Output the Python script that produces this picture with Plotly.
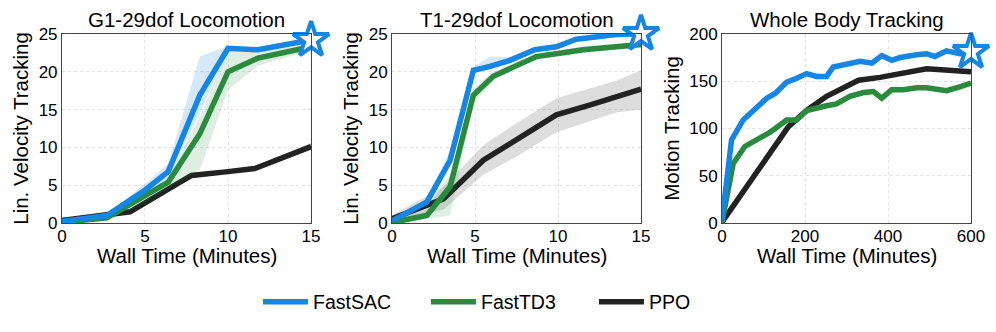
import plotly.graph_objs as go
from plotly.subplots import make_subplots

# ---- G1-29dof Locomotion ----
g1_sac_x = [0, 2.7, 4.9, 6.4, 8.3, 10, 11.8, 15]
g1_sac_y = [0.2, 1.0, 4.2, 6.8, 16.9, 23.1, 22.9, 24.2]
g1_sac_hi = [0.3, 1.2, 5.0, 7.8, 22.0, 23.4, 23.1, 24.5]
g1_sac_lo = [0.1, 0.8, 3.6, 6.2, 14.5, 22.8, 22.7, 23.9]

g1_td3_x = [0, 2.7, 4.9, 6.4, 8.3, 10, 11.8, 15]
g1_td3_y = [0.1, 0.7, 3.5, 5.4, 11.8, 20.0, 21.8, 23.3]
g1_td3_hi = [0.2, 0.9, 4.2, 6.2, 14.0, 23.0, 22.6, 23.7]
g1_td3_lo = [0.0, 0.5, 2.6, 4.6, 7.0, 17.6, 20.8, 22.8]

g1_ppo_x = [0, 2.7, 4.1, 6.4, 7.8, 10, 11.6, 15]
g1_ppo_y = [0.35, 1.1, 1.5, 4.5, 6.3, 6.8, 7.2, 10.1]
g1_ppo_hi = [0.5, 1.3, 1.8, 4.8, 6.6, 7.1, 7.5, 10.6]
g1_ppo_lo = [0.2, 0.9, 1.2, 4.2, 6.0, 6.5, 6.9, 9.7]

# ---- T1-29dof Locomotion ----
t1_sac_x = [0, 2.1, 3.5, 4.9, 5.9, 7.1, 8.6, 9.9, 11.1, 13.5, 15]
t1_sac_y = [0.3, 2.8, 8.3, 20.2, 20.7, 21.5, 22.9, 23.3, 24.3, 24.9, 25.0]
t1_sac_hi = [0.5, 3.1, 9.6, 20.6, 22.0, 21.9, 23.2, 23.6, 24.6, 25.2, 25.3]
t1_sac_lo = [0.1, 2.5, 7.5, 19.7, 20.3, 21.1, 22.6, 23.0, 24.0, 24.6, 24.7]

t1_td3_x = [0, 2.1, 3.5, 4.9, 6.1, 7.5, 8.7, 10.3, 11.5, 15]
t1_td3_y = [0.1, 1.0, 4.8, 16.9, 19.4, 20.9, 22.0, 22.5, 22.9, 23.6]
t1_td3_hi = [0.2, 1.8, 6.5, 17.8, 20.0, 21.3, 22.4, 22.9, 23.3, 24.0]
t1_td3_lo = [0.0, 0.6, 1.0, 15.8, 18.8, 20.5, 21.6, 22.1, 22.5, 23.2]

t1_ppo_x = [0, 3.1, 5.5, 7.5, 9.9, 11.9, 13.5, 15]
t1_ppo_y = [0.6, 3.2, 8.3, 11.0, 14.3, 15.6, 16.7, 17.7]
t1_ppo_hi = [1.0, 4.8, 10.3, 13.2, 16.5, 17.8, 18.8, 20.2]
t1_ppo_lo = [0.2, 1.8, 6.4, 8.8, 12.0, 13.4, 14.6, 15.0]

# ---- Whole Body Tracking ----
wb_sac_x = [0, 23, 51, 84, 108, 128, 156, 180, 204, 228, 252, 268, 296, 333,
            361, 385, 409, 429, 469, 493, 513, 541, 573, 600]
wb_sac_y = [3, 88, 109, 123, 132, 137, 149, 153, 158, 155, 155, 165, 167, 171,
            169, 177, 172, 175, 178, 179, 176, 182, 179, 181]

wb_td3_x = [0, 27, 55, 84, 116, 156, 180, 204, 228, 252, 276, 308, 341, 365,
            385, 409, 437, 469, 493, 513, 541, 573, 600]
wb_td3_y = [1, 63, 81, 88, 96, 109, 109, 119, 122, 124, 126, 134, 138, 139,
            132, 141, 141, 143, 143, 142, 140, 144, 148]

wb_ppo_x = [0, 160, 204, 252, 329, 381, 493, 600]
wb_ppo_y = [1, 102, 119, 134, 151, 154, 163, 160]
wb_ppo_hi = [2, 105, 122, 136, 152, 155, 164, 161]
wb_ppo_lo = [0, 99, 116, 132, 150, 153, 162, 159]

colors = {'FastSAC': '#1585E6', 'FastTD3': '#2A8A3E', 'PPO': '#222222'}
fills = {'FastSAC': 'rgba(21,133,230,0.18)', 'FastTD3': 'rgba(42,138,62,0.15)',
         'PPO': 'rgba(120,120,120,0.25)'}
ranks = {'FastSAC': 1, 'FastTD3': 2, 'PPO': 3}

panels = [
    ('G1-29dof Locomotion', 'Lin. Velocity Tracking', [0, 15], [0, 25], 5, 5, {
        'PPO': (g1_ppo_x, g1_ppo_y, g1_ppo_lo, g1_ppo_hi),
        'FastTD3': (g1_td3_x, g1_td3_y, g1_td3_lo, g1_td3_hi),
        'FastSAC': (g1_sac_x, g1_sac_y, g1_sac_lo, g1_sac_hi)}),
    ('T1-29dof Locomotion', 'Lin. Velocity Tracking', [0, 15], [0, 25], 5, 5, {
        'PPO': (t1_ppo_x, t1_ppo_y, t1_ppo_lo, t1_ppo_hi),
        'FastTD3': (t1_td3_x, t1_td3_y, t1_td3_lo, t1_td3_hi),
        'FastSAC': (t1_sac_x, t1_sac_y, t1_sac_lo, t1_sac_hi)}),
    ('Whole Body Tracking', 'Motion Tracking', [0, 600], [0, 200], 200, 50, {
        'PPO': (wb_ppo_x, wb_ppo_y, wb_ppo_lo, wb_ppo_hi),
        'FastTD3': (wb_td3_x, wb_td3_y, None, None),
        'FastSAC': (wb_sac_x, wb_sac_y, None, None)}),
]

fig = make_subplots(rows=1, cols=3)

x_domains = [[0.0622, 0.3123], [0.3936, 0.6436], [0.7249, 0.9749]]
y_domain = [0.328, 0.898]
font = 'Liberation Sans, Arial, sans-serif'

for i, (title, ytitle, xr, yr, xdt, ydt, series) in enumerate(panels):
    col = i + 1
    for name in ['PPO', 'FastTD3', 'FastSAC']:
        x, y, lo, hi = series[name]
        if lo is not None:
            fig.add_trace(go.Scatter(x=x + x[::-1], y=hi + lo[::-1], mode='lines',
                                     fill='toself', fillcolor=fills[name],
                                     line=dict(width=0), hoverinfo='skip',
                                     showlegend=False), row=1, col=col)
        fig.add_trace(go.Scatter(x=x, y=y, mode='lines', name=name,
                                 line=dict(color=colors[name], width=5.5),
                                 legendrank=ranks[name],
                                 showlegend=(i == 0)), row=1, col=col)
    # star at the end of FastSAC
    sx, sy = series['FastSAC'][0], series['FastSAC'][1]
    fig.add_trace(go.Scatter(x=[sx[-1]], y=[sy[-1]], mode='markers', showlegend=False,
                             cliponaxis=False,
                             marker=dict(symbol='star', size=27, color='white',
                                         line=dict(color=colors['FastSAC'], width=4))),
                  row=1, col=col)
    axis_style = dict(showline=True, linecolor='#444', linewidth=1, mirror=True,
                      showgrid=True, gridcolor='#e2e2e2', griddash='dot', zeroline=False,
                      ticks='', automargin=False,
                      tickfont=dict(size=17, color='black', family=font))
    fig.update_xaxes(range=xr, dtick=xdt, domain=x_domains[i], ticklabelstandoff=-3,
                     **axis_style, row=1, col=col)
    fig.update_yaxes(range=yr, dtick=ydt, domain=y_domain,
                     title=dict(text=ytitle, standoff=4,
                                font=dict(size=20.5, color='black', family=font)),
                     **axis_style, row=1, col=col)
    xc = sum(x_domains[i]) / 2
    fig.add_annotation(text=title, x=xc, y=0.94, xref='paper', yref='paper',
                       showarrow=False, xanchor='center', yanchor='middle',
                       font=dict(size=20.5, color='black', family=font))
    fig.add_annotation(text='Wall Time (Minutes)', x=xc, y=0.229, xref='paper',
                       yref='paper', showarrow=False, xanchor='center', yanchor='middle',
                       font=dict(size=20.5, color='black', family=font))

fig.update_layout(
    width=996, height=332,
    margin=dict(l=0, r=0, t=0, b=0),
    plot_bgcolor='white', paper_bgcolor='white',
    font=dict(family=font, color='black'),
    legend=dict(orientation='h', x=0.259, xanchor='left', y=0.09, yanchor='middle',
                font=dict(size=19.5, color='black', family=font),
                itemwidth=45, entrywidth=108, tracegroupgap=0),
)

fig.write_html("out.html", config={'displayModeBar': False},
               post_script="document.body.style.margin='0px';")
